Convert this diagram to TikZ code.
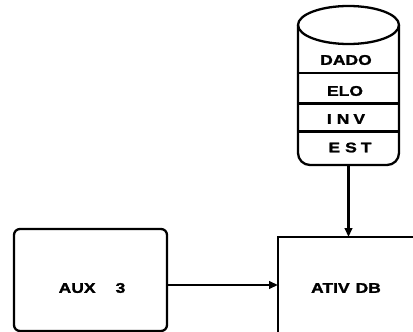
\documentclass[tikz,border=0pt]{standalone}
\usepackage{fontspec}
\setmainfont{Liberation Sans}[FakeStretch=1.25,FakeBold=1.5]
\usetikzlibrary{arrows.meta}
\begin{document}
\begin{tikzpicture}[x=1pt,y=-1pt,
  ln/.style={line width=2.3pt,draw=black},
  lbl/.style={inner sep=0pt,font=\fontsize{14}{15}\selectfont\bfseries},
  arr/.style={ln,-{Triangle[length=9pt,width=7.5pt]}},
  boxsq/.style={anchor=north west,inner sep=0pt,outer sep=0pt},
]
\useasboundingbox (0,0) rectangle (413,332);
\clip (0,0) rectangle (413,332);
% cylinder (data store)
\draw[ln] (348.5,25) ellipse [x radius=50.5, y radius=19];
\draw[ln,rounded corners=12pt] (298,25) -- (298,165) -- (399,165) -- (399,25);
\draw[ln] (298,25) -- (298,40);
\draw[ln] (399,25) -- (399,40);
\draw[ln] (298,73) -- (399,73);
\draw[ln] (298,103.5) -- (399,103.5);
\draw[ln] (298,131.5) -- (399,131.5);
\coordinate (cylbot) at (348.5,165);
\node[lbl] (dado) at (346,60) {DADO};
\node[lbl] (elo) at (345,91) {ELO};
\node[lbl] (inv) at (346,119) {I\hspace{5pt}N\hspace{4pt}V};
\node[lbl] (est) at (350,147.5) {E\hspace{5pt}S\hspace{4pt}T};
% boxes
\node[boxsq,minimum width=153pt,minimum height=102pt] (auxbox) at (14,229) {};
\node[boxsq,minimum width=160pt,minimum height=120pt] (ativ) at (278,237) {};
\draw[ln,rounded corners=6pt] (auxbox.north west) rectangle (auxbox.south east);
\draw[ln] (ativ.north west) rectangle (ativ.south east);
\node[lbl] (auxlbl) at (92,288) {AUX\hspace{20pt}3};
\node[lbl] (ativlbl) at (346,288) {ATIV\hspace{6pt}DB};
% connectors
\coordinate (arrowy) at (0,285);
\draw[arr] (cylbot) -- (cylbot |- ativ.north);
\draw[arr] (auxbox.east |- arrowy) -- (ativ.west |- arrowy);
\end{tikzpicture}
\end{document}
